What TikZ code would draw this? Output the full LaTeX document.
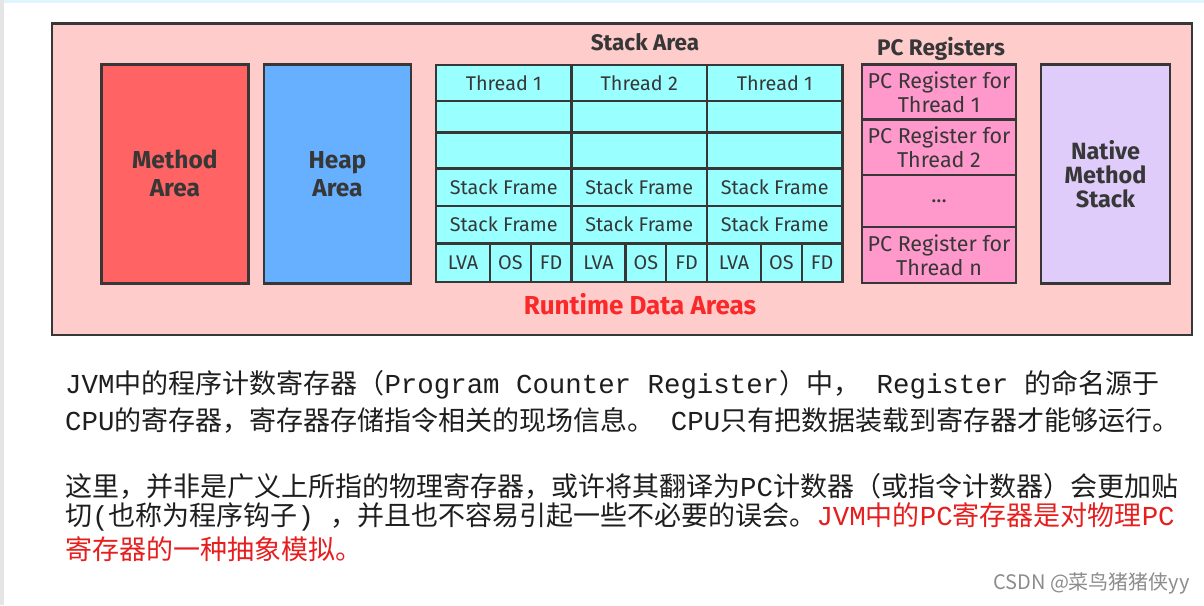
\documentclass[tikz,border=0pt]{standalone}
\usepackage{fontspec}
\setmainfont{Fira Sans}
\newfontfamily\cjk{Noto Sans CJK SC}
\newfontfamily\mono{Liberation Mono}[Scale=1.015]
\definecolor{areapink}{RGB}{255,204,204}
\definecolor{methodred}{RGB}{255,99,99}
\definecolor{heapblue}{RGB}{102,176,255}
\definecolor{stackcyan}{RGB}{153,255,255}
\definecolor{pcpink}{RGB}{255,153,204}
\definecolor{nativelilac}{RGB}{224,204,250}
\definecolor{edge}{RGB}{55,55,55}
\definecolor{labelred}{RGB}{250,40,40}
\definecolor{txtred}{RGB}{230,30,30}
\definecolor{txtgray}{RGB}{30,30,30}
\tikzset{
  box/.style={draw=edge,line width=2.4pt,inner sep=0pt,outer sep=0pt,anchor=north west,align=center},
  bigbox/.style={box,minimum width=147pt,minimum height=219pt,
    font=\bfseries\fontsize{24.5}{28}\selectfont,text=edge},
  cell/.style={box,fill=stackcyan,minimum width=135.5pt,
    font=\fontsize{19.8}{22}\selectfont,text=edge},
  preg/.style={box,fill=pcpink,minimum width=154pt,
    font=\fontsize{21.5}{24}\selectfont,text=edge},
  title/.style={font=\bfseries\fontsize{22.5}{24}\selectfont,text=edge},
  para/.style={anchor=west,inner sep=0pt,text=txtgray,
    font=\cjk\fontsize{27}{30}\selectfont}
}
\begin{document}
\begin{tikzpicture}[x=1pt,y=-1pt]
  \useasboundingbox[fill=white] (0,0) rectangle (1204,605);
  \fill[cyan!12] (0,0) rectangle (1204,2.5);
  \fill[black!10] (0,0) rectangle (4,605);

  % runtime data areas
  \node[box,fill=areapink,minimum width=1140.3pt,minimum height=311.7pt] (rda) at (51.7,23.3) {};
  \node[font=\bfseries\fontsize{26}{27}\selectfont,text=labelred] (rdalabel) at (640,304) {Runtime Data Areas};

  \node[bigbox,fill=methodred] (method) at (101.4,64.3) {Method\\Area};
  \node[bigbox,fill=heapblue] (heap) at (264,64.3) {Heap\\Area};

  % stack area, one column per thread
  \node[title] (stacktitle) at (645,42) {Stack Area};
  \foreach \c/\xl/\lab in {1/436/Thread 1,2/571.5/Thread 2,3/707/Thread 1} {
    \node[cell,minimum height=36pt] (th\c) at (\xl,65) {\lab};
    \node[cell,minimum height=31.3pt] (ea\c) at (th\c.south west) {};
    \node[cell,minimum height=36pt] (eb\c) at (ea\c.south west) {};
    \node[cell,minimum height=37.4pt] (sfa\c) at (eb\c.south west) {Stack Frame};
    \node[cell,minimum height=37.6pt] (sfb\c) at (sfa\c.south west) {Stack Frame};
    \node[cell,minimum width=54pt,minimum height=38.4pt] (lva\c) at (sfb\c.south west) {LVA};
    \node[cell,minimum width=40.75pt,minimum height=38.4pt] (os\c) at (lva\c.north east) {OS};
    \node[cell,minimum width=40.75pt,minimum height=38.4pt] (fd\c) at (os\c.north east) {FD};
  }

  % pc registers
  \node[title] (pctitle) at (941,49) {PC Registers};
  \node[preg,minimum height=55pt] (pc1) at (862,64.3) {PC Register for\\Thread 1};
  \node[preg,minimum height=55.7pt] (pc2) at (pc1.south west) {PC Register for\\Thread 2};
  \node[preg,minimum height=51.7pt] (pcdots) at (pc2.south west) {...};
  \node[preg,minimum height=56.3pt] (pcn) at (pcdots.south west) {PC Register for\\Thread n};

  \node[bigbox,fill=nativelilac,minimum width=129pt,font=\bfseries\fontsize{23.5}{24}\selectfont] (native) at (1041,64.3) {Native\\Method\\Stack};

  % text below
  \node[para] (line1) at (65,385) {{\mono JVM}中的程序计数寄存器（{\mono Program Counter Register}）中，{\mono\ Register\ }的命名源于};
  \node[para] (line2) at (65,420) {{\mono CPU}的寄存器，寄存器存储指令相关的现场信息。{\mono\ CPU}只有把数据装载到寄存器才能够运行。};
  \node[para] (line3) at (65,486.5) {这里，并非是广义上所指的物理寄存器，或许将其翻译为{\mono PC}计数器（或指令计数器）会更加贴};
  \node[para] (line4) at (65,517) {切{\mono (}也称为程序钩子{\mono )\ }，并且也不容易引起一些不必要的误会。\textcolor{txtred}{{\mono JVM}中的{\mono PC}寄存器是对物理{\mono PC}}};
  \node[para,text=txtred] (line5) at (65,549) {寄存器的一种抽象模拟。};

  \node[anchor=east,inner sep=0pt,text=black!45,font=\cjk\fontsize{20}{22}\selectfont] (wmark) at (1190,583) {CSDN @菜鸟猪猪侠yy};
\end{tikzpicture}
\end{document}
